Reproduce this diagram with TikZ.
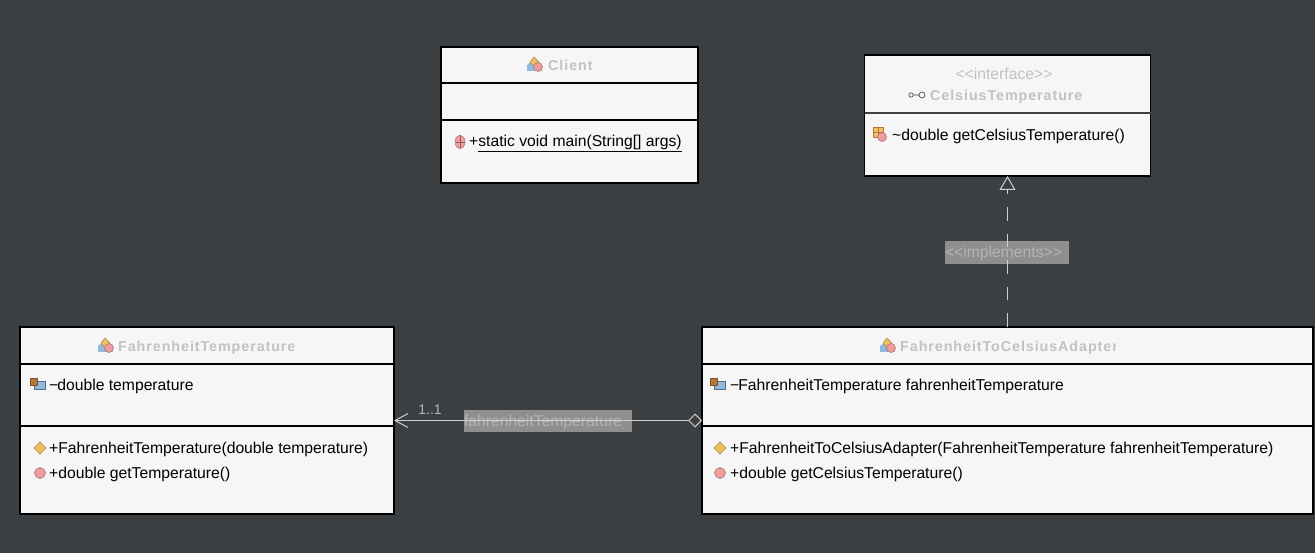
\documentclass[tikz,border=0pt]{standalone}
\usepackage{fontspec}
\setmainfont{Liberation Sans}
\newfontfamily\titlefont[LetterSpace=6.5]{Liberation Sans}
\usetikzlibrary{arrows.meta,positioning}
\definecolor{bgdark}{HTML}{3B3F42}
\definecolor{boxfill}{HTML}{F6F6F6}
\definecolor{titlegray}{HTML}{C2C2C2}
\definecolor{linegray}{HTML}{CFCFCF}
\definecolor{labelfill}{HTML}{8F8F8F}
\definecolor{labeltext}{HTML}{B4B4B4}
\definecolor{pinkicon}{HTML}{EE9C9C}
\definecolor{yellowicon}{HTML}{F0C060}
\definecolor{blueicon}{HTML}{8FBBE0}
\definecolor{brownicon}{HTML}{B5763A}
\tikzset{
pics/methodicon/.style={code={
\fill[pinkicon,draw=pinkicon!70!black,line width=.5pt] (0,0) circle (5.5);
}},
pics/staticicon/.style={code={
\fill[pinkicon,draw=pinkicon!70!black,line width=.5pt] (0,0) ellipse (5 and 6.5);
\draw[pinkicon!60!black,line width=.4pt] (0,-6.5) -- (0,6.5) (-4.5,0) -- (4.5,0);
}},
pics/ctoricon/.style={code={
\fill[yellowicon,draw=yellowicon!70!black,line width=.5pt] (-6,0) -- (0,-6) -- (6,0) -- (0,6) -- cycle;
}},
pics/fieldicon/.style={code={
\fill[blueicon,draw=blueicon!60!black,line width=.5pt] (-3,-3) rectangle (8,5);
\fill[brownicon,draw=brownicon!70!black,line width=.5pt] (-7,-6) rectangle (0,1);
}},
pics/classicon/.style={code={
\fill[blueicon] (-8,7) -- (-8,1) -- (-3,-3) -- (7,7) -- cycle;
\fill[yellowicon,draw=yellowicon!70!black,line width=.5pt] (-5,-2) -- (-1,-7) -- (4,-2) -- (-1,3) -- cycle;
\fill[pinkicon,draw=pinkicon!70!black,line width=.5pt] (3,3) circle (4.5);
}},
pics/abstracticon/.style={code={
\fill[yellowicon,draw=brownicon,line width=.5pt] (-7,-7) rectangle (3,3);
\draw[brownicon,line width=.4pt] (-7,-2) -- (3,-2) (-2,-7) -- (-2,3);
\fill[pinkicon,draw=pinkicon!70!black,line width=.5pt] (2,3) circle (4.5);
}},
pics/ifaceicon/.style={code={
\draw[titlegray!30!black,line width=.6pt] (-7,0) circle (2.2) (-4.8,0) -- (1,0) (4,0) circle (3);
}}
}
\begin{document}
\begin{tikzpicture}[x=1pt,y=-1pt]
\tikzstyle{classbox}=[rectangle,draw=black,line width=1.5pt,fill=boxfill,
inner sep=0pt,outer sep=0pt]
\tikzstyle{title}=[font=\titlefont\fontsize{14.3}{16}\selectfont\bfseries,text=titlegray,inner sep=0pt,anchor=base west]
\tikzstyle{stereo}=[font=\fontsize{15.7}{18}\selectfont,text=titlegray,inner sep=0pt]
\tikzstyle{member}=[font=\fontsize{15.7}{18}\selectfont,text=black,anchor=west,inner sep=0pt]
\tikzstyle{divider}=[black,line width=1.5pt]
\tikzstyle{connlabel}=[fill=labelfill,text=labeltext,font=\fontsize{15.7}{18}\selectfont,inner sep=0pt,align=left]
\useasboundingbox (0,0) rectangle (1315,553);
\fill[bgdark] (0,0) rectangle (1315,553);

\node[classbox,minimum width=257pt,minimum height=136pt] at (569.5,115) (client) {};
\node[classbox,minimum width=286pt,minimum height=121pt] at (1007.5,115.5) (celsius) {};
\node[classbox,minimum width=374pt,minimum height=187pt] at (207,420.5) (fahrenheit) {};
\node[classbox,minimum width=611pt,minimum height=187pt] at (1007.5,420.5) (adapter) {};

\draw[divider] (client.west |- 0,83) -- (client.east |- 0,83);
\draw[divider] (client.west |- 0,120) -- (client.east |- 0,120);
\draw[divider,black!75] (celsius.west |- 0,113) -- (celsius.east |- 0,113);
\draw[divider] (fahrenheit.west |- 0,364) -- (fahrenheit.east |- 0,364);
\draw[divider] (fahrenheit.west |- 0,426) -- (fahrenheit.east |- 0,426);
\draw[divider] (adapter.west |- 0,364) -- (adapter.east |- 0,364);
\draw[divider] (adapter.west |- 0,426) -- (adapter.east |- 0,426);

% titles
\begin{scope}
\clip (545,50) rectangle (591,80);
\node[title] at (548,71) (clientname) {Client};
\end{scope}
\node[stereo] at (1004,74) (stereotype) {{<}{<}interface{>}{>}};
\node[title] at (930,101) (celsiusname) {CelsiusTemperature};
\node[title] at (118,352) (fahrenheitname) {FahrenheitTemperature};
\begin{scope}
\clip (895,330) rectangle (1115,360);
\node[title] at (900,352) (adaptername) {FahrenheitToCelsiusAdapter};
\end{scope}

% members
\node[member] at (469,143) (mainop) {+\underline{static void main(String[] args)}};
\node[member] at (892,136) (celsiusop) {\textasciitilde double getCelsiusTemperature()};
\node[member] at (49,386) (tempfield) {\textminus\kern-1pt double temperature};
\node[member] at (49,449) (tempctor) {+FahrenheitTemperature(double temperature)};
\node[member] at (49,474) (tempop) {+double getTemperature()};
\node[member] at (730,386) (adapterfield) {\textminus\kern-1pt FahrenheitTemperature fahrenheitTemperature};
\node[member] at (730,449) (adapterctor) {+FahrenheitToCelsiusAdapter(FahrenheitTemperature fahrenheitTemperature)};
\node[member] at (730,474) (adapterop) {+double getCelsiusTemperature()};

% icons
\pic at (535,64) {classicon};
\pic at (460,142) {staticicon};
\pic at (918,95) {ifaceicon};
\pic at (880,134) {abstracticon};
\pic at (106,345) {classicon};
\pic at (37,384) {fieldicon};
\pic at (40,448) {ctoricon};
\pic at (40,473) {methodicon};
\pic at (888,345) {classicon};
\pic at (717,384) {fieldicon};
\pic at (720,448) {ctoricon};
\pic at (720,473) {methodicon};

% labels under the connectors
\node[connlabel,text width=124pt,text height=17pt,text depth=6pt] at (1007,252.5) (implements) {{<}{<}implements{>}{>}};
\node[connlabel,text width=168pt,text height=16.5pt,text depth=5.5pt] at (548,421) (assoc) {fahrenheitTemperature};
\node[text=labeltext,font=\fontsize{14}{16}\selectfont,inner sep=0pt] at (430,410) (mult) {1..1};

\draw[linegray,line width=1pt,dash pattern=on 13.5pt off 13pt,-{Triangle[open,fill=bgdark,length=14pt,width=16pt]}] (adapter.north) -- (celsius.south);
\draw[linegray,line width=1pt,{Straight Barb[length=13pt,width=14pt]}-{Diamond[open,fill=bgdark,length=14pt,width=14pt]}] (fahrenheit.east) -- (adapter.west);

\end{tikzpicture}
\end{document}
